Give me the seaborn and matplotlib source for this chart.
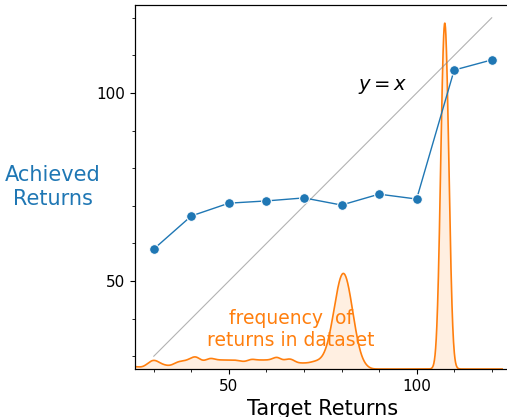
import numpy as np
import matplotlib
matplotlib.use("Agg")
import matplotlib.pyplot as plt
from matplotlib.ticker import MultipleLocator
import seaborn as sns

# target vs achieved returns
targets = [30, 40, 50, 60, 70, 80, 90, 100, 110, 120]
achieved = [58.5, 67.3, 70.7, 71.3, 72.1, 70.2, 73.1, 71.8, 106.1, 108.8]

# returns found in the dataset (value, relative count)
dataset_returns = list(range(24, 88)) + [107, 108]
dataset_counts = [3, 2.5, 2, 1.5, 4, 8, 10, 8, 5, 4,          # 24-33
                  3, 4, 7, 8, 8, 9, 11, 14, 11, 7,            # 34-43
                  9, 12, 10, 9, 9, 9, 9, 9, 9, 8,             # 44-53
                  7, 8, 11, 9, 9, 9, 9, 9, 11, 14,            # 54-63
                  8, 9, 11, 10, 6, 6, 6, 6, 7, 8,             # 64-73
                  9, 12, 20, 36, 59, 84, 100, 100, 83, 57,    # 74-83
                  32, 15, 6, 2,                               # 84-87
                  455, 455]                                   # 107-108

fig = plt.figure(figsize=(5.07, 4.17), dpi=100)
ax = fig.add_axes([0.2663, 0.1151, 0.7406, 0.8729])
ax2 = ax.twinx()

# kernel width of about 0.9 return units
x = np.array(dataset_returns, float)
w = np.array(dataset_counts, float)
neff = w.sum() ** 2 / (w ** 2).sum()
std = np.sqrt(np.cov(x, aweights=w))
bw_adjust = 0.9 / (neff ** -0.2 * std)

kde_kws = dict(x=dataset_returns, weights=dataset_counts, bw_adjust=bw_adjust,
               gridsize=2000, cut=30, clip=(18, 130), color="tab:orange", ax=ax2)
sns.kdeplot(fill=True, alpha=0.12, linewidth=0, **kde_kws)
sns.kdeplot(lw=1.2, **kde_kws)
dmax = ax2.lines[0].get_ydata().max()
ax2.set_ylim(0, dmax / 0.95)
ax2.set_yticks([])
ax2.set_ylabel("")

ax.set_zorder(ax2.get_zorder() + 1)
ax.patch.set_visible(False)

sns.lineplot(x=targets, y=targets, color="gray", alpha=0.6, lw=0.8, ax=ax)
sns.lineplot(x=targets, y=achieved, color="tab:blue", marker="o",
             markersize=7, lw=1, ax=ax)

ax.text(91, 101.6, "$y = x$", fontsize=14, ha="center", va="center")
ax.text(66.4, 37, "frequency  of\nreturns in dataset", color="tab:orange",
        fontsize=13.5, ha="center", va="center")

ax.set_xlim(25, 125)
ax.set_ylim(26.6, 123.4)
ax.xaxis.set_major_locator(MultipleLocator(50))
ax.xaxis.set_minor_locator(MultipleLocator(10))
ax.yaxis.set_major_locator(MultipleLocator(50))
ax.yaxis.set_minor_locator(MultipleLocator(10))
ax.tick_params(labelsize=11)

ax.set_xlabel("Target Returns", fontsize=15)
ax.set_ylabel("Achieved\nReturns", rotation=0, color="tab:blue", fontsize=15,
              ha="center", va="center")
ax.yaxis.set_label_coords(-0.218, 0.5)

fig.savefig("out.png", dpi=100)
